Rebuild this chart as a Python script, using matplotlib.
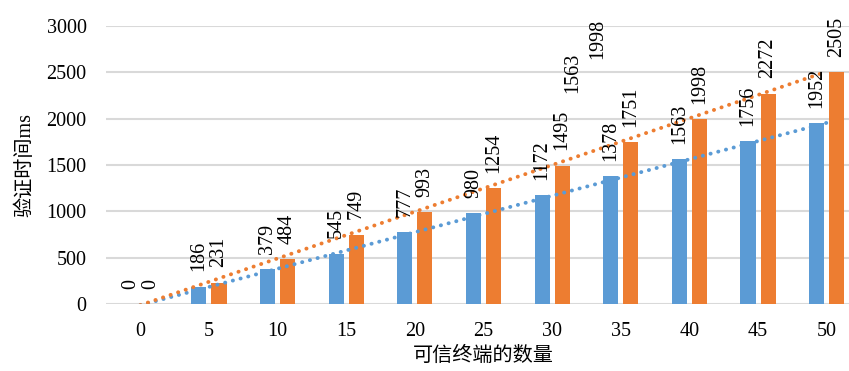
import numpy as np
import matplotlib.pyplot as plt

# 数据
terminals = [0, 5, 10, 15, 20, 25, 30, 35, 40, 45, 50]
time_a = [0, 186, 379, 545, 777, 980, 1172, 1378, 1563, 1756, 1952]
time_b = [0, 231, 484, 749, 993, 1254, 1495, 1751, 1998, 2272, 2505]
# 图中多出的两个标签 (x位置, y位置, 文字)
extra_labels = [(6.3, 2500, "1563"), (6.66, 2860, "1998")]

blue = "#5B9BD5"
orange = "#ED7D31"
grid_c = "#D9D9D9"
serif = "Liberation Serif"

fig = plt.figure(figsize=(8.49, 3.71), dpi=100)
ax = fig.add_axes([106 / 849, 0.1806, 755 / 849, 0.749])

x = np.arange(len(terminals))
w = 0.22
off = 0.146
bars_a = ax.bar(x - off, time_a, w, color=blue, zorder=2)
bars_b = ax.bar(x + off, time_b, w, color=orange, zorder=2)

# 线性趋势线
for vals, c in [(time_a, blue), (time_b, orange)]:
    k, b = np.polyfit(x, vals, 1)
    ax.plot(x, k * x + b, color=c, linestyle=(0, (0.05, 2.0)), linewidth=2.8,
            dash_capstyle="round", zorder=3)

# 数据标签
for bars, vals in [(bars_a, time_a), (bars_b, time_b)]:
    for r, v in zip(bars, vals):
        ax.annotate(str(v), (r.get_x() + r.get_width() / 2, v),
                    xytext=(0, 11), textcoords="offset points",
                    rotation=90, ha="center", va="bottom",
                    fontsize=14.5, family=serif, zorder=4)

for px, py, t in extra_labels:
    ax.text(px, py, t, rotation=90, ha="center", va="center",
            fontsize=14.5, family=serif)

ax.set_xlim(-0.5, 10.5)
ax.set_ylim(0, 3000)
ax.set_yticks(range(0, 3001, 500))
ax.set_xticks(x)
ax.set_xticklabels([str(t) for t in terminals])
ax.yaxis.grid(True, color=grid_c, linewidth=1.5, zorder=0)
ax.set_axisbelow(True)
for s in ax.spines.values():
    s.set_visible(False)
ax.tick_params(length=0, labelsize=14.5)
ax.tick_params(axis="x", pad=13)
ax.tick_params(axis="y", pad=14)
for lab in ax.get_xticklabels() + ax.get_yticklabels():
    lab.set_family(serif)

ax.set_xlabel("可信终端的数量", fontsize=14.5, family=["Noto Sans CJK SC"], labelpad=3)
ax.set_ylabel("验证时间ms", fontsize=14.5, family=[serif, "Noto Sans CJK SC"], labelpad=8)

fig.savefig("out.png", dpi=100)
